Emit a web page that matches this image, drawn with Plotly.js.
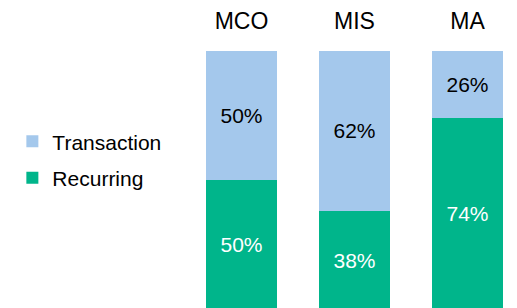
<!DOCTYPE html>
<html>
<head>
<meta charset="utf-8">
<script src="https://cdn.plot.ly/plotly-3.0.1.min.js"></script>
<style>html,body{margin:0;padding:0;background:#fff;}#chart{width:517px;height:308px;}</style>
</head>
<body>
<div id="chart"></div>
<script>
const categories = ["MCO", "MIS", "MA"];
const recurring = [50, 38, 74];
const transaction = [50, 62, 26];
const seriesNames = ["Recurring", "Transaction"];

const FONT = "Liberation Sans, Arial, sans-serif";
const pct = v => v.map(x => x + "%");

const data = [
  {
    type: "bar", name: seriesNames[0], x: categories, y: recurring,
    text: pct(recurring), textposition: "inside", insidetextanchor: "middle",
    textfont: {family: FONT, size: 21, color: "#ffffff"},
    marker: {color: "#00B58B"}, legendgroup: "r", legendrank: 2, constraintext: "none",
    hoverinfo: "none"
  },
  {
    type: "bar", name: seriesNames[1], x: categories, y: transaction,
    text: pct(transaction), textposition: "inside", insidetextanchor: "middle",
    textfont: {family: FONT, size: 21, color: "#000000"},
    marker: {color: "#A4C8EC"}, legendgroup: "t", legendrank: 1, constraintext: "none",
    hoverinfo: "none"
  }
];

const layout = {
  width: 517, height: 308,
  margin: {l: 185, r: 0, t: 51, b: 0, pad: 0},
  paper_bgcolor: "#ffffff", plot_bgcolor: "#ffffff",
  barmode: "stack", bargap: 0.372,
  font: {family: FONT, size: 21, color: "#000000"},
  showlegend: true,
  legend: {
    x: -0.52, xanchor: "left", y: 0.577, yanchor: "middle",
    traceorder: "grouped", tracegroupgap: 6,
    font: {family: FONT, size: 21, color: "#000000"},
    bgcolor: "rgba(0,0,0,0)"
  },
  xaxis: {
    type: "category", side: "top", range: [-0.5, 2.438],
    showgrid: false, zeroline: false, showline: false, ticks: "",
    tickfont: {family: FONT, size: 23, color: "#000000"},
    ticklabelstandoff: 16, fixedrange: true
  },
  yaxis: {
    range: [0.4, 100], showgrid: false, zeroline: false, showline: false,
    showticklabels: false, ticks: "", fixedrange: true
  }
};

Plotly.newPlot("chart", data, layout, {displayModeBar: false, staticPlot: true});
</script>
</body>
</html>
